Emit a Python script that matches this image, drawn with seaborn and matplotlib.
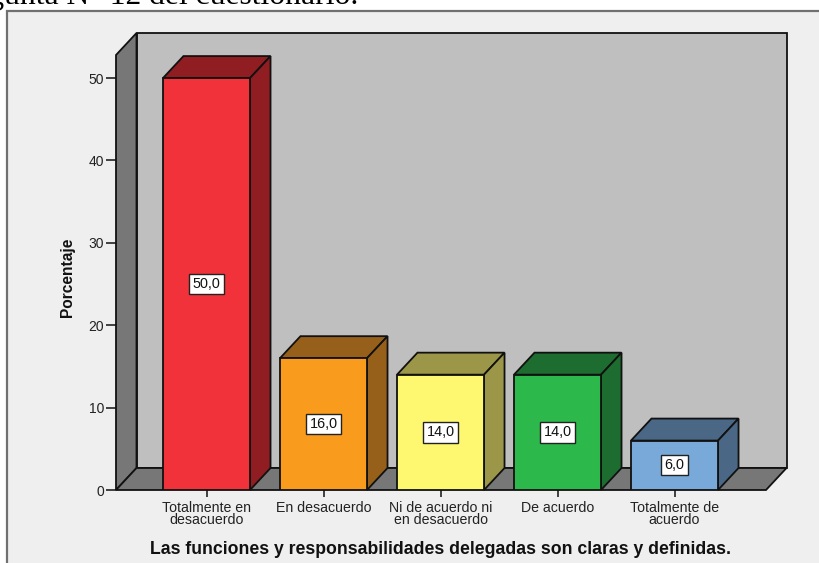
import matplotlib
matplotlib.use("Agg")
import matplotlib.pyplot as plt
from matplotlib.patches import Polygon, Rectangle
import seaborn as sns

categorias = ["Totalmente en\ndesacuerdo", "En desacuerdo", "Ni de acuerdo ni\nen desacuerdo",
              "De acuerdo", "Totalmente de\nacuerdo"]
porcentajes = [50.0, 16.0, 14.0, 14.0, 6.0]
etiquetas = ["50,0", "16,0", "14,0", "14,0", "6,0"]
ticks_y = [0, 10, 20, 30, 40, 50]
colores = ["#f2323a", "#f99b1c", "#fdf870", "#2db84b", "#78a9d9"]
colores_lado = ["#8f1d21", "#96601a", "#9c9748", "#1c6d2f", "#4a6785"]

W, H = 819, 563
sns.set_theme(style="white", rc={"font.family": ["Liberation Sans", "DejaVu Sans"]})

fig = plt.figure(figsize=(W / 100, H / 100), dpi=100, facecolor="white")
fig.add_artist(Rectangle((7 / W, -0.1), 1.1, 1.1 - 11 / H, transform=fig.transFigure,
                         facecolor="#efefef", edgecolor="#707070", lw=1.6, zorder=-5))
fig.text(358 / W, 1 - 4 / H, "Pregunta N° 12 del cuestionario.", ha="right", va="baseline",
         family="Liberation Serif", fontsize=22.8, color="black")

ax = fig.add_axes([116 / W, 1 - 490 / H, 650 / W, 435 / H])
ax.patch.set_alpha(0)
for s in ax.spines.values():
    s.set_visible(False)

sns.barplot(x=categorias, y=porcentajes, hue=categorias, palette=colores, legend=False,
            width=0.744, saturation=1, edgecolor="#111111", linewidth=1.3, ax=ax, zorder=4)

ax.set_xlim(-0.7735, 4.782)
ax.set_ylim(0, 52.8)
dx, dy = 20.5 / 117, 22 / 8.24  # profundidad del efecto 3D
x0, x1 = ax.get_xlim()
ytop = ax.get_ylim()[1]

borde = dict(edgecolor="#111111", lw=1.3, clip_on=False, joinstyle="miter")
ax.add_patch(Polygon([(x0 + dx, dy), (x1 + dx, dy), (x1 + dx, ytop + dy), (x0 + dx, ytop + dy)],
                     facecolor="#bfbfbf", zorder=1, **borde))
ax.add_patch(Polygon([(x0, 0), (x0 + dx, dy), (x0 + dx, ytop + dy), (x0, ytop)],
                     facecolor="#777777", zorder=1.1, **borde))
ax.add_patch(Polygon([(x0, 0), (x1, 0), (x1 + dx, dy), (x0 + dx, dy)],
                     facecolor="#777777", zorder=1.2, **borde))

for i, barra in enumerate(ax.containers):
    r = barra[0]
    a, b, v = r.get_x(), r.get_x() + r.get_width(), r.get_height()
    ax.add_patch(Polygon([(a, v), (b, v), (b + dx, v + dy), (a + dx, v + dy)],
                         facecolor=colores_lado[i], zorder=3, **borde))
    ax.add_patch(Polygon([(b, 0), (b + dx, dy), (b + dx, v + dy), (b, v)],
                         facecolor=colores_lado[i], zorder=3, **borde))
    ax.text((a + b) / 2, v / 2, etiquetas[i], ha="center", va="center", fontsize=10.4,
            color="#111111", zorder=6,
            bbox=dict(boxstyle="square,pad=0.22", facecolor="white", edgecolor="#222222", lw=1))

ax.set_yticks(ticks_y)
ax.tick_params(axis="y", left=True, length=7.5, width=1.2, color="#222222", pad=1,
               labelsize=10, labelcolor="#222222")
ax.tick_params(axis="x", bottom=True, length=5, width=1.2, color="#222222", pad=3,
               labelsize=10.2, labelcolor="#222222")
for t in ax.get_xticklabels():
    t.set_linespacing(0.8)

fig.text(67 / W, 1 - 277 / H, "Porcentaje", rotation=90, ha="center", va="center",
         fontsize=11.2, fontweight="bold", color="#111111")
fig.text(441 / W, 1 - 549 / H, "Las funciones y responsabilidades delegadas son claras y definidas.",
         ha="center", va="center", fontsize=12.7, fontweight="bold", color="#111111")

fig.savefig("out.png", dpi=100, facecolor=fig.get_facecolor())
